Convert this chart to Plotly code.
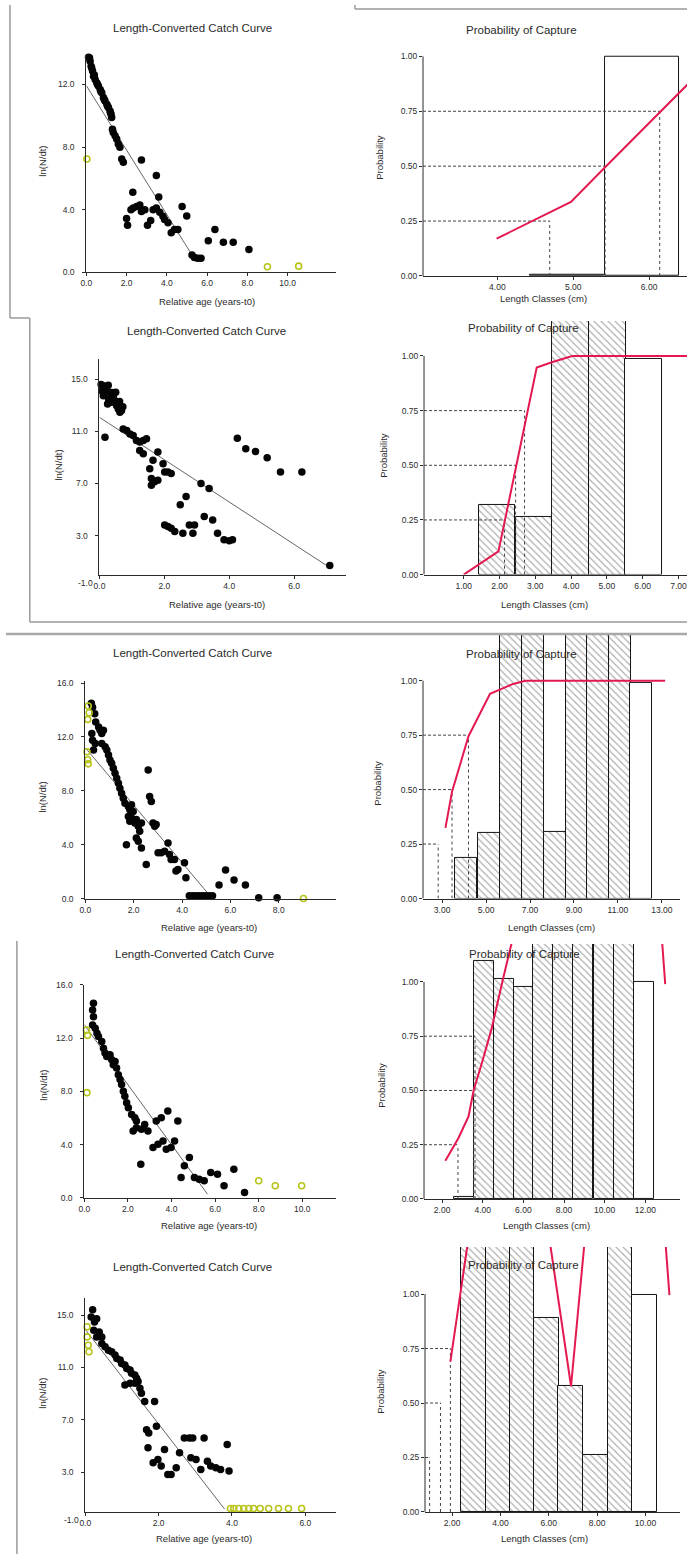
import plotly.graph_objects as go

W, H = 687, 1559
FONT = "Liberation Sans, Arial, sans-serif"
INK = "#2b2b2b"
RED = "#e3194f"
OLIVE = "#b8c41c"

# ---------------- Length-converted catch curves ----------------
# Row 1
cc1_age = [0.11, 0.19, 0.24, 0.31, 0.36, 0.44, 0.52, 0.60, 0.69, 0.77, 0.85, 0.93, 1.02, 1.10, 1.18,
           1.23, 1.26, 1.30, 1.34, 1.43, 1.51, 1.59, 1.67, 1.76, 1.84, 2.74, 3.48, 3.60, 2.31, 2.00,
           2.05, 2.22, 2.33, 2.50, 2.66, 2.74, 2.91, 3.04, 3.20, 3.32, 3.48, 3.65, 3.81, 3.89, 4.06,
           4.22, 4.38, 4.55, 4.76, 4.99, 5.25, 5.37, 5.53, 5.70, 6.06, 6.39, 6.81, 7.30, 8.08,
           0.08, 0.16, 0.27, 0.40, 0.56, 0.72, 0.89, 1.06, 1.20]
cc1_lnN = [13.73, 13.48, 13.16, 12.85, 12.53, 12.32, 12.11, 11.90, 11.68, 11.47, 11.16, 10.94, 10.73,
           10.52, 10.31, 10.10, 9.89, 9.14, 8.93, 8.72, 8.51, 8.19, 7.98, 7.24, 7.03, 7.17, 6.18, 4.81,
           5.12, 3.43, 3.00, 4.00, 4.10, 4.20, 4.30, 3.89, 4.00, 3.00, 3.30, 4.00, 4.10, 3.83, 3.58,
           3.37, 3.16, 2.52, 2.73, 2.73, 4.20, 3.60, 1.10, 0.95, 0.89, 0.89, 2.01, 2.73, 1.92, 1.92,
           1.45, 13.95, 13.70, 13.05, 12.60, 12.00, 11.55, 11.05, 10.60, 10.20]
cc1_excl_age = [0.03, 9.00, 10.55]
cc1_excl_lnN = [7.24, 0.35, 0.39]
cc1_fit_age = [0.0, 5.40]
cc1_fit_lnN = [11.93, 0.80]

# Row 2
cc2_age = [0.12, 0.17, 0.12, 0.22, 0.28, 0.38, 0.43, 0.48, 0.53, 0.58, 0.63, 0.68, 0.38, 0.17, 0.73,
           0.84, 0.94, 1.04, 1.14, 1.24, 1.35, 1.45, 1.24, 1.35, 1.80, 1.65, 1.55, 1.60, 1.60, 1.70,
           1.80, 1.96, 2.01, 2.11, 2.21, 3.13, 3.38, 2.49, 2.67, 2.01, 2.11, 2.21, 2.32, 2.57, 2.77,
           2.88, 2.93, 3.23, 3.49, 3.64, 3.84, 4.00, 4.10, 4.25, 4.51, 4.81, 5.17, 5.58, 6.24, 7.10,
           0.05, 0.08, 0.27, 0.30, 0.50, 0.62, 0.72, 0.25]
cc2_lnN = [14.50, 14.12, 13.74, 14.37, 13.48, 13.23, 13.74, 13.36, 12.98, 12.72, 12.47, 12.60, 13.99,
           10.56, 11.19, 11.07, 10.81, 10.69, 10.31, 10.18, 10.31, 10.43, 9.54, 9.29, 9.41, 8.78, 8.14,
           7.38, 6.87, 7.13, 7.25, 8.52, 7.88, 7.88, 7.76, 7.00, 6.61, 5.37, 6.00, 3.82, 3.69, 3.56,
           3.31, 3.18, 3.82, 3.18, 3.82, 4.46, 4.20, 3.18, 2.67, 2.60, 2.67, 10.48, 9.66, 9.46, 8.98,
           7.88, 7.88, 0.71, 14.60, 14.10, 14.55, 14.00, 14.00, 13.30, 12.90, 13.10]
cc2_excl_age = []
cc2_excl_lnN = []
cc2_fit_age = [0.0, 7.05]
cc2_fit_lnN = [12.08, 0.62]

# Row 3
cc3_age = [0.25, 0.30, 0.39, 0.43, 0.55, 0.61, 0.68, 0.75, 0.27, 0.30, 0.41, 0.34, 0.68, 0.82, 0.89,
           0.96, 1.02, 1.09, 1.16, 1.23, 1.30, 1.37, 1.43, 1.50, 1.57, 1.64, 1.78, 1.84, 1.91, 1.98,
           1.78, 1.84, 1.91, 2.05, 2.11, 2.19, 2.25, 2.32, 1.70, 2.11, 2.19, 2.32, 2.52, 2.60, 2.66,
           2.73, 2.80, 2.87, 2.93, 3.01, 3.14, 3.28, 3.42, 3.48, 3.55, 3.69, 3.75, 3.83, 4.10, 4.16,
           4.30, 4.44, 4.57, 4.71, 4.85, 4.98, 5.12, 5.26, 5.53, 5.80, 6.15, 6.62, 7.17, 7.93]
cc3_lnN = [14.51, 14.21, 13.73, 13.11, 12.74, 12.50, 12.25, 12.50, 12.25, 11.76, 11.52, 11.03, 11.52,
           11.27, 11.03, 10.66, 10.28, 10.04, 9.67, 9.30, 8.93, 8.56, 8.19, 7.82, 7.45, 7.08, 6.84,
           6.59, 6.96, 6.47, 6.10, 5.73, 5.98, 5.61, 5.86, 5.37, 5.00, 5.61, 4.00, 4.50, 4.25, 3.76,
           2.53, 9.54, 7.57, 7.20, 5.61, 5.37, 5.49, 3.40, 3.40, 3.52, 4.13, 3.27, 2.90, 2.90, 2.04,
           2.16, 2.65, 1.54, 0.20, 0.20, 0.20, 0.20, 0.20, 0.20, 0.20, 0.20, 1.00, 2.11, 1.37, 1.00,
           0.05, 0.05]
cc3_excl_age = [0.12, 0.16, 0.10, 0.07, 0.10, 0.12, 9.02]
cc3_excl_lnN = [14.30, 13.80, 13.30, 10.90, 10.30, 10.00, 0.00]
cc3_fit_age = [0.0, 5.25]
cc3_fit_lnN = [11.20, 0.0]

# Row 4
cc4_age = [0.42, 0.38, 0.42, 0.38, 0.50, 0.58, 0.65, 0.80, 0.88, 0.95, 1.03, 1.18, 1.26, 1.33, 1.41,
           1.48, 1.56, 1.64, 1.71, 1.79, 1.86, 1.94, 2.02, 2.17, 2.32, 2.39, 2.24, 2.39, 2.62, 2.77,
           2.92, 3.30, 3.53, 3.83, 3.61, 3.38, 3.15, 3.76, 3.98, 4.14, 4.29, 2.59, 4.44, 4.59, 4.82,
           5.05, 5.27, 5.50, 5.80, 6.11, 6.41, 6.86, 7.35]
cc4_lnN = [14.60, 14.10, 13.60, 12.98, 12.73, 12.36, 12.11, 11.74, 11.24, 10.87, 10.62, 10.74, 10.37,
           10.00, 10.24, 9.75, 9.25, 8.88, 8.51, 8.01, 7.64, 7.14, 6.77, 6.27, 6.02, 5.77, 5.03, 5.27,
           5.15, 5.52, 5.03, 5.77, 6.02, 6.52, 4.28, 4.03, 3.78, 3.65, 3.78, 4.28, 5.77, 2.53, 1.54,
           2.41, 3.03, 1.54, 1.41, 1.29, 1.91, 1.79, 0.92, 2.16, 0.42]
cc4_excl_age = [0.10, 0.15, 0.12, 8.00, 8.76, 9.97]
cc4_excl_lnN = [12.60, 12.20, 7.90, 1.29, 0.92, 0.92]
cc4_fit_age = [0.0, 5.65]
cc4_fit_lnN = [13.00, 0.29]

# Row 5
cc5_age = [0.20, 0.16, 0.25, 0.31, 0.23, 0.31, 0.38, 0.45, 0.45, 0.54, 0.63, 0.72, 0.81, 0.86, 0.95,
           0.99, 1.08, 1.13, 1.22, 1.26, 1.35, 1.40, 1.44, 1.08, 1.22, 1.35, 1.49, 1.53, 1.62, 1.89,
           1.67, 1.73, 1.94, 1.71, 1.85, 1.98, 2.07, 2.16, 2.25, 2.34, 2.48, 2.57, 2.70, 2.84, 2.93,
           2.88, 3.02, 3.15, 3.24, 3.33, 3.42, 3.56, 3.69, 3.87, 3.92]
cc5_lnN = [15.40, 14.85, 14.47, 14.72, 13.84, 13.33, 13.71, 13.33, 12.83, 12.58, 12.32, 12.20, 11.95,
           11.69, 11.57, 11.31, 11.19, 10.93, 10.81, 10.56, 10.43, 10.18, 9.93, 9.67, 9.80, 9.80, 9.42,
           9.04, 8.41, 8.41, 6.26, 6.01, 6.52, 4.88, 3.74, 3.99, 3.48, 4.75, 2.85, 2.85, 3.35, 4.49,
           5.63, 5.63, 5.63, 4.12, 3.99, 3.23, 5.63, 3.86, 3.48, 3.35, 3.23, 5.12, 3.10]
cc5_excl_age = [0.05, 0.05, 0.08, 0.10, 3.96, 4.05, 4.19, 4.32, 4.46, 4.59, 4.77, 5.00, 5.27, 5.54, 5.90]
cc5_excl_lnN = [14.10, 13.33, 12.70, 12.20, 0.25, 0.25, 0.25, 0.25, 0.25, 0.25, 0.25, 0.25, 0.25, 0.25, 0.25]
cc5_fit_age = [0.0, 3.80]
cc5_fit_lnN = [13.90, 0.20]

# ---------------- Probability of capture ----------------
probs = [0.25, 0.50, 0.75]
prob_ticks = [0.0, 0.25, 0.50, 0.75, 1.0]

pc1_mid = [4.92, 5.91]
pc1_p = [0.006, 1.0]
pc1_hatch = [False, False]
pc1_sel_len = [3.99, 4.97, 5.42, 6.55]
pc1_sel_p = [0.17, 0.337, 0.495, 0.887]
pc1_L = [4.69, 5.42, 6.14]

pc2_mid = [1.93, 2.96, 3.99, 5.01, 6.03]
pc2_p = [0.318, 0.265, 1.6, 1.6, 0.985]
pc2_hatch = [True, True, True, True, False]
pc2_sel_len = [1.0, 1.97, 3.04, 3.44, 4.03, 7.3]
pc2_sel_p = [0.0, 0.106, 0.947, 0.97, 1.0, 1.0]
pc2_L = [2.14, 2.45, 2.70]

pc3_mid = [4.10, 5.14, 6.12, 7.12, 8.14, 9.13, 10.10, 11.08, 12.06]
pc3_p = [0.187, 0.30, 1.6, 1.6, 0.308, 1.6, 1.6, 1.6, 0.99]
pc3_hatch = [True, True, True, True, True, True, True, True, False]
pc3_sel_len = [3.15, 3.45, 4.20, 5.18, 6.23, 6.80, 13.15]
pc3_sel_p = [0.324, 0.49, 0.745, 0.94, 0.985, 1.0, 1.0]
pc3_L = [2.82, 3.45, 4.20]

pc4_mid = [3.06, 4.06, 5.06, 6.01, 6.96, 7.93, 8.93, 9.95, 10.95, 11.92]
pc4_p = [0.01, 1.099, 1.015, 0.977, 1.6, 1.6, 1.6, 1.6, 1.6, 1.0]
pc4_hatch = [False, True, True, True, True, True, True, True, True, False]
pc4_sel_len = [2.16, 2.8, 3.3, 3.55, 4.0, 4.44, 5.0, 5.6, 6.5, 12.5, 12.98]
pc4_sel_p = [0.176, 0.28, 0.38, 0.5, 0.64, 0.786, 1.015, 1.25, 1.6, 1.6, 0.99]
pc4_L = [2.78, 3.55, 3.62]

pc5_mid = [2.88, 3.91, 4.89, 5.90, 6.91, 7.92, 8.94, 9.96]
pc5_p = [1.6, 1.6, 1.6, 0.889, 0.577, 0.263, 1.6, 0.995]
pc5_hatch = [True, True, True, True, True, True, True, False]
pc5_sel_len = [1.93, 3.0, 5.7, 6.92, 7.7, 10.65, 10.99]
pc5_sel_p = [0.69, 1.5, 1.5, 0.577, 1.5, 1.5, 0.995]
pc5_L = [1.07, 1.52, 1.93]

# ---------------- figure construction ----------------
fig = go.Figure()
layout = {}
shapes = []
annotations = []

axis_common = dict(showgrid=False, zeroline=False, ticks="outside", ticklen=3, tickwidth=1,
                   tickcolor=INK, linecolor=INK, linewidth=1, fixedrange=True,
                   tickfont=dict(family=FONT, size=8.5, color=INK))


def ann(text, px, py, size, angle=0, xanchor="center"):
    annotations.append(dict(text=text, x=px / W, y=1 - py / H, xref="paper", yref="paper",
                            showarrow=False, textangle=angle, xanchor=xanchor, yanchor="middle",
                            font=dict(family=FONT, size=size, color=INK)))


def ids(k):
    s = "" if k == 1 else str(k)
    return "x" + s, "y" + s, "xaxis" + s, "yaxis" + s


def catch_panel(k, box, xr, yr, xt, yt, age, lnn, ex_age, ex_lnn, fit_age, fit_lnn,
                title_at, xtitle_at, ytitle_at, corner_label=None):
    xa, ya, xk, yk = ids(k)
    x0, x1, top, bottom = box
    layout[xk] = dict(axis_common, domain=[x0 / W, x1 / W], range=xr, anchor=ya, showline=True,
                      tickvals=xt, ticktext=[f"{v:.1f}" for v in xt])
    layout[yk] = dict(axis_common, domain=[1 - bottom / H, 1 - top / H], range=yr, anchor=xa,
                      showline=True, tickvals=yt, ticktext=[f"{v:.1f}" for v in yt],
                      ticklabelstandoff=6)
    fig.add_trace(go.Scatter(x=fit_age, y=fit_lnn, mode="lines", line=dict(color="#666", width=1),
                             xaxis=xa, yaxis=ya, hoverinfo="skip"))
    fig.add_trace(go.Scatter(x=age, y=lnn, mode="markers", cliponaxis=False,
                             marker=dict(color="#050505", size=7.5, line=dict(width=0)),
                             xaxis=xa, yaxis=ya))
    if ex_age:
        fig.add_trace(go.Scatter(x=ex_age, y=ex_lnn, mode="markers", cliponaxis=False,
                                 marker=dict(symbol="circle-open", color=OLIVE, size=6,
                                             line=dict(width=1.6)),
                                 xaxis=xa, yaxis=ya))
    ann("Length-Converted Catch Curve", *title_at, 11.5)
    ann("Relative age (years-t0)", *xtitle_at, 9.5)
    ann("ln(N/dt)", *ytitle_at, 9.5, angle=-90)
    if corner_label:
        ann(corner_label[0], corner_label[1], corner_label[2], 8.5, xanchor="right")


def capture_panel(k, box, xr, ytop, xt, mids, pvals, hatch, width, sel_len, sel_p, lvals,
                  title_at, xtitle_at, ytitle_at):
    xa, ya, xk, yk = ids(k)
    x0, x1, top, bottom = box
    layout[xk] = dict(axis_common, domain=[x0 / W, x1 / W], range=xr, anchor=ya, showline=True,
                      tickvals=xt, ticktext=[f"{v:.2f}" for v in xt])
    layout[yk] = dict(axis_common, domain=[1 - bottom / H, 1 - top / H], range=[0, ytop],
                      anchor=xa, showline=False, tickvals=prob_ticks,
                      ticktext=[f"{v:.2f}" for v in prob_ticks])
    shapes.append(dict(type="line", xref=f"{xa} domain", yref=ya, x0=0, x1=0, y0=0, y1=1.0,
                       line=dict(color=INK, width=1)))
    fig.add_trace(go.Bar(x=mids, y=pvals, width=width, xaxis=xa, yaxis=ya,
                         marker=dict(color="white", line=dict(color="#151515", width=1),
                                     pattern=dict(shape=["\\" if h else "" for h in hatch],
                                                  fgcolor="#5a5a5a", bgcolor="white",
                                                  size=5, solidity=0.24))))
    for p, L in zip(probs, lvals):
        fig.add_trace(go.Scatter(x=[xr[0], L], y=[p, p], mode="lines", xaxis=xa, yaxis=ya,
                                 line=dict(color="#444", width=1, dash="3px,2px"),
                                 hoverinfo="skip"))
        fig.add_trace(go.Scatter(x=[L, L], y=[0, p], mode="lines", xaxis=xa, yaxis=ya,
                                 line=dict(color="#444", width=1, dash="dot"), hoverinfo="skip"))
    fig.add_trace(go.Scatter(x=sel_len, y=sel_p, mode="lines", xaxis=xa, yaxis=ya,
                             line=dict(color=RED, width=2)))
    ann("Probability of Capture", *title_at, 11.5)
    ann("Length Classes (cm)", *xtitle_at, 9.5)
    ann("Probability", *ytitle_at, 9.5, angle=-90)


# row 1
catch_panel(1, (81, 333, 50, 269), [0, 12.41], [0, 13.9], [0, 2, 4, 6, 8, 10], [0, 4, 8, 12],
            cc1_age, cc1_lnN, cc1_excl_age, cc1_excl_lnN, cc1_fit_age, cc1_fit_lnN,
            (188, 23), (203, 298), (37, 157))
capture_panel(2, (420.7, 687, 40, 272.7), [3.02, 6.50], 1.053, [4, 5, 6],
              pc1_mid, pc1_p, pc1_hatch, 0.98, pc1_sel_len, pc1_sel_p, pc1_L,
              (520, 25), (542, 295), (376, 153))
# row 2
catch_panel(3, (94.3, 343, 356.7, 573.3), [0, 7.6], [0, 16.53], [0, 2, 4, 6], [3, 7, 11, 15],
            cc2_age, cc2_lnN, cc2_excl_age, cc2_excl_lnN, cc2_fit_age, cc2_fit_lnN,
            (202, 328), (213, 603), (52, 463), corner_label=("-1.0", 90, 582))
capture_panel(4, (421.7, 687, 318, 573.3), [-0.11, 7.24], 1.16, [1, 2, 3, 4, 5, 6, 7],
              pc2_mid, pc2_p, pc2_hatch, 1.024, pc2_sel_len, pc2_sel_p, pc2_L,
              (522, 325), (543, 603), (380, 453))
# row 3
catch_panel(5, (80, 333, 680, 899.3), [0, 10.37], [0, 16.18], [0, 2, 4, 6, 8], [0, 4, 8, 12, 16],
            cc3_age, cc3_lnN, cc3_excl_age, cc3_excl_lnN, cc3_fit_age, cc3_fit_lnN,
            (188, 652), (205, 928), (37, 797))
capture_panel(6, (420.7, 680, 634, 899.3), [2.13, 13.83], 1.21, [3, 5, 7, 9, 11, 13],
              pc3_mid, pc3_p, pc3_hatch, 1.0, pc3_sel_len, pc3_sel_p, pc3_L,
              (520, 653), (550, 928), (375, 783))
# row 4
catch_panel(7, (79, 333, 986, 1200.7), [0, 11.55], [0, 16.0], [0, 2, 4, 6, 8, 10], [0, 4, 8, 12, 16],
            cc4_age, cc4_lnN, cc4_excl_age, cc4_excl_lnN, cc4_fit_age, cc4_fit_lnN,
            (190, 955), (205, 1228), (37, 1087))
capture_panel(8, (421.7, 680, 945, 1201.7), [1.11, 13.71], 1.175, [2, 4, 6, 8, 10, 12],
              pc4_mid, pc4_p, pc4_hatch, 0.98, pc4_sel_len, pc4_sel_p, pc4_L,
              (523, 955), (545, 1228), (378, 1087))
# row 5
catch_panel(9, (80, 333, 1301.7, 1516.5), [0, 6.84], [0, 16.27], [0, 2, 4, 6], [3, 7, 11, 15],
            cc5_age, cc5_lnN, cc5_excl_age, cc5_excl_lnN, cc5_fit_age, cc5_fit_lnN,
            (188, 1270), (200, 1543), (36, 1397), corner_label=("-1.0", 76, 1525))
capture_panel(10, (422.7, 680, 1250, 1516.7), [0.88, 11.43], 1.216, [2, 4, 6, 8, 10],
              pc5_mid, pc5_p, pc5_hatch, 1.02, pc5_sel_len, pc5_sel_p, pc5_L,
              (522, 1268), (543, 1543), (377, 1395))


# window frame lines around the panels
def frame(x0, y0, x1, y1, color="#9a9a9a", width=1.5):
    shapes.append(dict(type="line", xref="paper", yref="paper", x0=x0 / W, x1=x1 / W,
                       y0=1 - y0 / H, y1=1 - y1 / H, line=dict(color=color, width=width)))


frame(4, 0, 4, 315)
frame(4, 315, 24, 315)
frame(24, 315, 24, 621)
frame(24, 621, 687, 621)
frame(352, 4, 687, 4)
frame(352, 0, 352, 4)
frame(0, 633, 687, 633, color="#a8a8a8", width=2.5)
frame(11, 942, 11, 1559)

fig.update_layout(**layout)
fig.update_layout(width=W, height=H, margin=dict(l=0, r=0, t=0, b=0), showlegend=False,
                  paper_bgcolor="white", plot_bgcolor="rgba(0,0,0,0)", bargap=0,
                  shapes=shapes, annotations=annotations,
                  font=dict(family=FONT, color=INK))

fig.write_html("out.html")
